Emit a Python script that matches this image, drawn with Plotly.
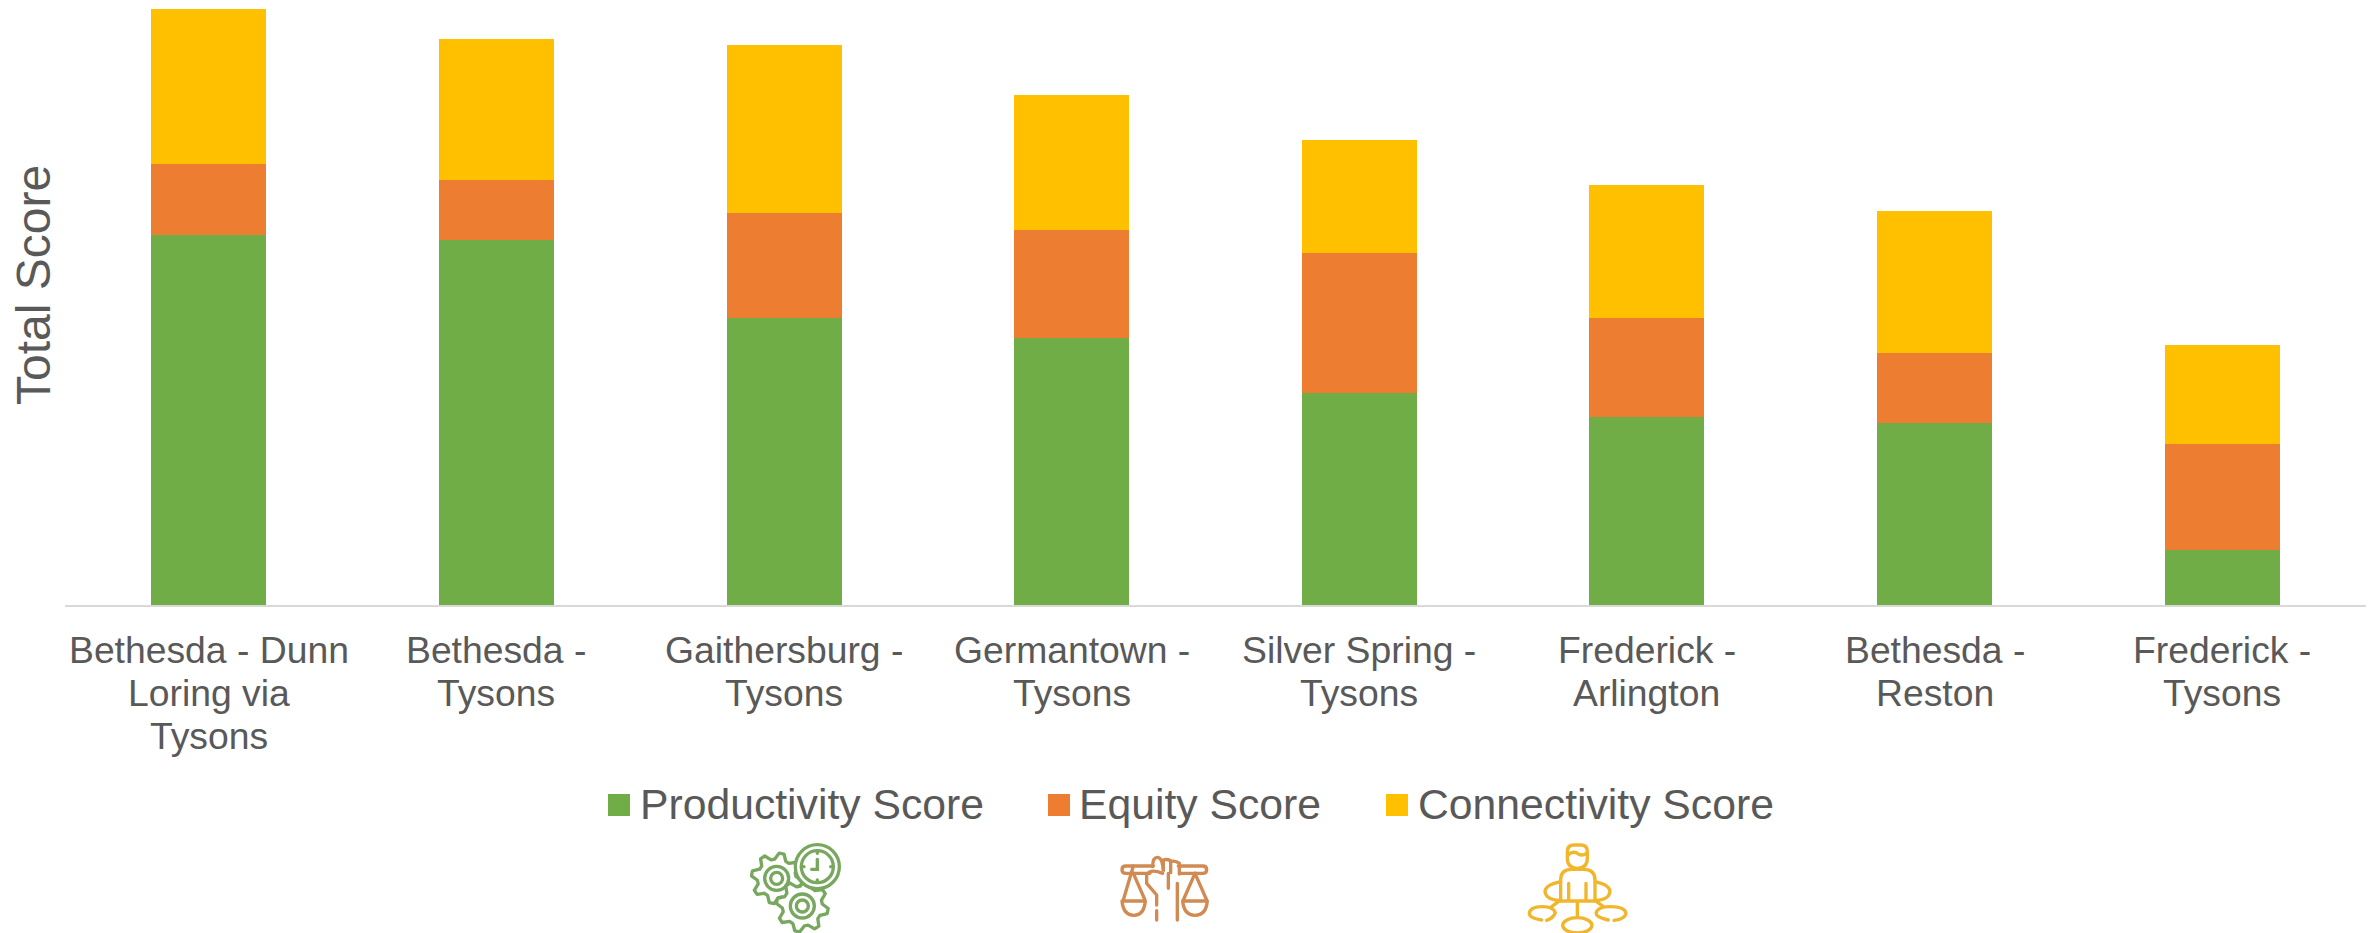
import base64, math
import plotly.graph_objects as go

categories = ["Bethesda - Dunn Loring via Tysons", "Bethesda - Tysons", "Gaithersburg - Tysons",
              "Germantown - Tysons", "Silver Spring - Tysons", "Frederick - Arlington",
              "Bethesda - Reston", "Frederick - Tysons"]
category_lines = [["Bethesda - Dunn", "Loring via", "Tysons"], ["Bethesda -", "Tysons"],
                  ["Gaithersburg -", "Tysons"], ["Germantown -", "Tysons"],
                  ["Silver Spring -", "Tysons"], ["Frederick -", "Arlington"],
                  ["Bethesda -", "Reston"], ["Frederick -", "Tysons"]]
productivity = [61.1, 60.33, 47.39, 44.08, 35.09, 31.07, 30.03, 9.1]
equity = [11.74, 9.87, 17.46, 17.95, 23.04, 16.41, 11.67, 17.47]
connectivity = [25.62, 23.31, 27.72, 22.2, 18.73, 21.9, 23.37, 16.41]
series_names = ["Productivity Score", "Equity Score", "Connectivity Score"]
series_colors = ["#70AD47", "#ED7D31", "#FFC000"]

W, H = 2374, 933
L, R, T, B = 65, 8, 0, 328
PW, PH = W - L - R, H - T - B
TXT = "#595959"
FONT = "Liberation Sans, Arial, sans-serif"


def px(x):
    return (x - L) / PW


def py(y):
    return (T + PH - y) / PH


fig = go.Figure()
for name, vals, col in zip(series_names, [productivity, equity, connectivity], series_colors):
    fig.add_bar(x=categories, y=vals, name=name, marker=dict(color=col, line=dict(width=0)))

ann = []
for cat, lines in zip(categories, category_lines):
    for i, line in enumerate(lines):
        ann.append(dict(x=cat, xref="x", y=py(650 + i * 43.2), yref="paper", text=line, showarrow=False,
                        xanchor="center", yanchor="middle", font=dict(size=37.3, color=TXT, family=FONT)))
ann.append(dict(x=px(33), xref="paper", y=py(285), yref="paper", text="Total Score", textangle=-90,
                showarrow=False, xanchor="center", yanchor="middle", font=dict(size=48, color=TXT, family=FONT)))

shapes = []
for name, col, sx, tx in zip(series_names, series_colors, [608, 1048, 1386], [637.5, 1077, 1415.5]):
    shapes.append(dict(type="rect", xref="paper", yref="paper", x0=px(sx), x1=px(sx + 22), y0=py(794), y1=py(816),
                       fillcolor=col, line=dict(width=0)))
    ann.append(dict(x=px(tx), xref="paper", y=py(804), yref="paper", text=name, showarrow=False, xanchor="left",
                    yanchor="middle", font=dict(size=42.7, color=TXT, family=FONT)))


def gear(cx, cy, r_out, r_in, teeth):
    pts = []
    n = teeth * 4
    for k in range(n):
        a = 2 * math.pi * (k + 0.5) / n
        r = r_out if k % 4 in (0, 1) else r_in
        pts.append(f"{cx + r * math.cos(a):.1f},{cy + r * math.sin(a):.1f}")
    return f'<polygon points="{" ".join(pts)}" fill="white" stroke-linejoin="round"/>'


gears = (gear(140, 145, 76, 58, 8) + '<circle cx="140" cy="145" r="36"/><circle cx="140" cy="145" r="18"/>'
         + gear(217, 228, 78, 60, 8) + '<circle cx="217" cy="228" r="36"/><circle cx="217" cy="228" r="18"/>'
         + '<circle cx="262" cy="110" r="66" fill="white"/><circle cx="262" cy="110" r="48"/>'
         + '<path d="M262 88V118H245M262 62V70M262 150V158M214 110H222M302 110H310"/>')
justice = ('<path d="M160 78H78Q66 78 66 89Q66 100 78 100H150M235 78H308Q320 78 320 89Q320 100 308 100H240"/>'
           '<path d="M100 78 70 180M100 100 135 180M66 183H136M66 183Q70 226 102 226Q132 226 136 183"/>'
           '<path d="M285 100 250 180M285 100 320 180M248 183H322M248 183Q252 226 285 226Q318 226 322 183"/>'
           '<path d="M158 80Q158 52 172 52Q188 52 190 95V60Q200 56 212 62V98M215 64Q228 62 238 70V102"/>'
           '<path d="M188 100Q150 85 140 105V130L170 165V195M170 212V240M205 100V145M232 130V240"/>')
person = ('<path d="M172 65Q172 45 192 45H212Q232 45 232 65V85Q232 115 202 115Q172 115 172 85Z"/>'
          '<path d="M174 75Q190 60 205 72Q218 80 232 68"/>'
          '<path d="M152 212V150Q152 118 185 118H220Q255 118 255 150V212"/>'
          '<path d="M152 155Q105 165 105 185Q108 210 152 212M255 155Q300 165 300 185Q297 210 255 212"/>'
          '<path d="M176 160V212M228 160V212M140 213H265M202 213V262"/>'
          '<ellipse cx="202" cy="286" rx="44" ry="23"/>'
          '<path d="M145 215 125 230M260 215 280 230"/>'
          '<path d="M95 270Q58 265 58 250Q60 230 98 230Q130 230 136 248Q130 265 110 271"/>'
          '<path d="M295 270Q258 262 258 250Q262 230 300 230Q345 230 348 250Q345 268 312 271"/>')

icons = [(gears, 730, 830, 120, 103, "#78A85F", 360, 309),
         (justice, 1100, 840, 120, 93, "#D08A52", 360, 279),
         (person, 1510, 830, 130, 103, "#F2B62C", 390, 309)]
images = []
for body, x, y, w, h, col, vw, vh in icons:
    svg = (f'<svg xmlns="http://www.w3.org/2000/svg" width="{w}" height="{h}" viewBox="0 0 {vw} {vh}">'
           f'<g fill="none" stroke="{col}" stroke-width="10" stroke-linecap="round">{body}</g></svg>')
    src = "data:image/svg+xml;base64," + base64.b64encode(svg.encode()).decode()
    images.append(dict(source=src, xref="paper", yref="paper", x=px(x), y=py(y), sizex=w / PW, sizey=h / PH,
                       xanchor="left", yanchor="top", sizing="stretch", layer="above"))

fig.update_layout(
    width=W, height=H, barmode="stack", bargap=0.6, showlegend=False,
    margin=dict(l=L, r=R, t=T, b=B, pad=0), paper_bgcolor="white", plot_bgcolor="white",
    font=dict(family=FONT, color=TXT),
    xaxis=dict(showticklabels=False, ticks="", showgrid=False, zeroline=False, showline=True,
               linecolor="#D9D9D9", linewidth=2),
    yaxis=dict(range=[0, 100], showticklabels=False, ticks="", showgrid=False, zeroline=False),
    annotations=ann, shapes=shapes, images=images,
)
fig.write_html("out.html", config=dict(displayModeBar=False), post_script="document.body.style.margin='0';")
